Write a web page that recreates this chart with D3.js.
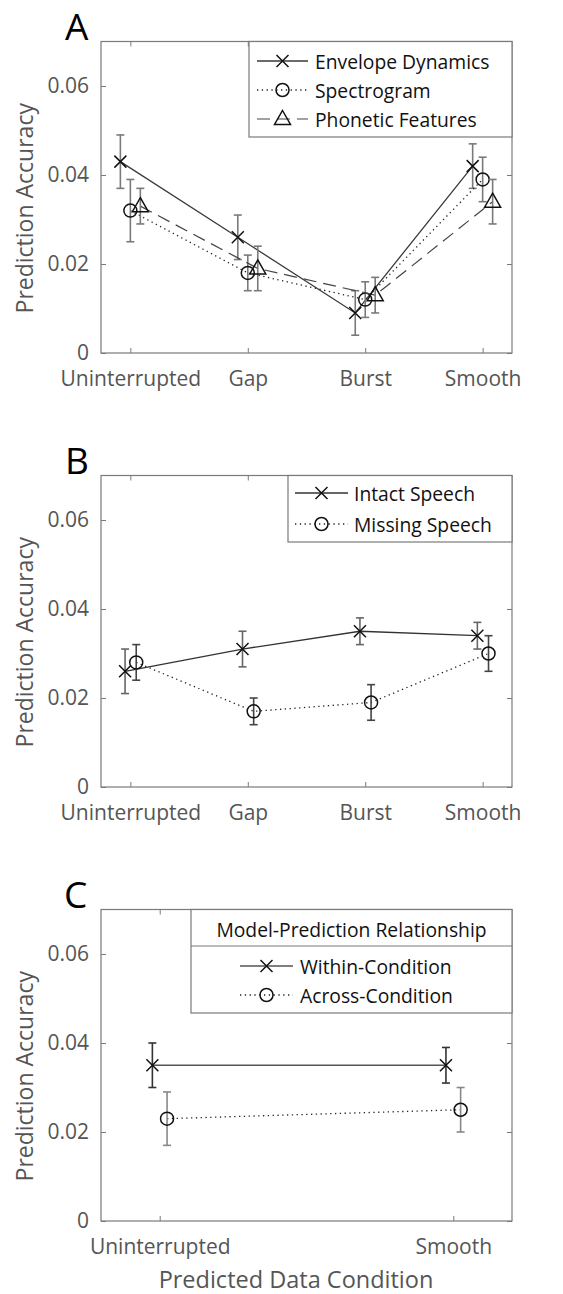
<!DOCTYPE html>
<html>
<head>
<meta charset="utf-8">
<script src="https://cdn.jsdelivr.net/npm/d3@7"></script>
<style>
  html, body { margin: 0; padding: 0; background: #fff; }
  svg { display: block; font-family: "Open Sans", sans-serif; }
</style>
</head>
<body>
<svg id="fig" width="563" height="1294"></svg>
<script>
// ---- data ----
const conditions = ["Uninterrupted", "Gap", "Burst", "Smooth"];
const predictedConditions = ["Uninterrupted", "Smooth"];
const yTicks = [0, 0.02, 0.04, 0.06];
const yTickLabels = ["0", "0.02", "0.04", "0.06"];

// Panel A: model feature sets
const envelopeMean = [0.043, 0.026, 0.009, 0.042];
const envelopeErr  = [0.006, 0.005, 0.005, 0.005];
const spectroMean  = [0.032, 0.018, 0.012, 0.039];
const spectroErr   = [0.007, 0.004, 0.004, 0.005];
const phoneticMean = [0.033, 0.019, 0.013, 0.034];
const phoneticErr  = [0.004, 0.005, 0.004, 0.005];

// Panel B: intact vs missing speech
const intactMean  = [0.026, 0.031, 0.035, 0.034];
const intactErr   = [0.005, 0.004, 0.003, 0.003];
const missingMean = [0.028, 0.017, 0.019, 0.030];
const missingErr  = [0.004, 0.003, 0.004, 0.004];

// Panel C: within vs across condition
const withinMean = [0.035, 0.035];
const withinErr  = [0.005, 0.004];
const acrossMean = [0.023, 0.025];
const acrossErr  = [0.006, 0.005];

const svg = d3.select("#fig");

const markerPaths = {
  x: "M-6,-6L6,6M-6,6L6,-6",
  circle: d3.symbol().type(d3.symbolCircle).size(Math.PI * 6.5 * 6.5)(),
  triangle: "M0,-8.5L8,5.5L-8,5.5Z"
};

function drawMarker(g, type, x, y) {
  g.append("path")
    .attr("d", markerPaths[type])
    .attr("transform", `translate(${x},${y})`)
    .attr("fill", "none")
    .attr("stroke", "#111")
    .attr("stroke-width", 1.5);
}

function drawPanel(p) {
  const g = svg.append("g");
  const x = d3.scaleLinear().domain(p.xDomain).range([101, 512]);
  const y = d3.scaleLinear().domain([0, 0.07]).range([p.bottom, p.bottom - 89 * 3.5]);
  const top = y(0.07), bottom = y(0);

  // panel letter
  g.append("text").attr("x", p.letterX).attr("y", top - 2)
    .attr("font-size", 37).attr("fill", "#000").text(p.letter);

  // axes box with inward ticks on all sides
  const axColor = "#7a7a7a";
  g.append("rect").attr("x", 101).attr("y", top).attr("width", 411).attr("height", bottom - top)
    .attr("fill", "none").attr("stroke", axColor).attr("stroke-width", 1.2);

  const xAxisB = d3.axisBottom(x).tickValues(p.categories.map((c, i) => i + 1))
    .tickFormat((d) => p.categories[d - 1]).tickSizeInner(-5).tickSizeOuter(0).tickPadding(18);
  const gx = g.append("g").attr("transform", `translate(0,${bottom})`).call(xAxisB);
  gx.select(".domain").remove();
  gx.selectAll("line").attr("stroke", axColor);
  gx.selectAll("text").attr("font-size", 21).attr("fill", "#555").attr("font-family", "Open Sans, sans-serif");

  const xAxisT = d3.axisTop(x).tickValues(p.categories.map((c, i) => i + 1))
    .tickFormat("").tickSizeInner(-5).tickSizeOuter(0);
  const gxt = g.append("g").attr("transform", `translate(0,${top})`).call(xAxisT);
  gxt.select(".domain").remove();
  gxt.selectAll("line").attr("stroke", axColor);

  const yAxisL = d3.axisLeft(y).tickValues(yTicks)
    .tickFormat((d, i) => yTickLabels[i]).tickSizeInner(-5).tickSizeOuter(0).tickPadding(12);
  const gy = g.append("g").attr("transform", `translate(101,0)`).call(yAxisL);
  gy.select(".domain").remove();
  gy.selectAll("line").attr("stroke", axColor);
  gy.selectAll("text").attr("font-size", 21).attr("fill", "#555").attr("font-family", "Open Sans, sans-serif");

  const yAxisR = d3.axisRight(y).tickValues(yTicks).tickFormat("").tickSizeInner(-5).tickSizeOuter(0);
  const gyr = g.append("g").attr("transform", `translate(512,0)`).call(yAxisR);
  gyr.select(".domain").remove();
  gyr.selectAll("line").attr("stroke", axColor);

  // y label
  const cy = (top + bottom) / 2 + 11;
  g.append("text").attr("transform", `translate(33,${cy}) rotate(-90)`)
    .attr("text-anchor", "middle").attr("font-size", 23).attr("fill", "#555")
    .text("Prediction Accuracy");

  if (p.xLabel) {
    g.append("text").attr("x", 296).attr("y", bottom + 67).attr("text-anchor", "middle")
      .attr("font-size", 23.5).attr("fill", "#555").text(p.xLabel);
  }

  // series
  p.series.forEach((s) => {
    const pts = s.mean.map((m, i) => ({ x: x(i + 1 + s.offset), y: y(m), lo: y(m - s.err[i]), hi: y(m + s.err[i]) }));
    g.append("path")
      .attr("d", d3.line().x((d) => d.x).y((d) => d.y)(pts))
      .attr("fill", "none").attr("stroke", s.lineColor).attr("stroke-width", s.lineWidth)
      .attr("stroke-dasharray", s.dash);
    pts.forEach((d) => {
      g.append("line").attr("x1", d.x).attr("x2", d.x).attr("y1", d.lo).attr("y2", d.hi)
        .attr("stroke", s.errColor).attr("stroke-width", 1.6);
      [d.lo, d.hi].forEach((yy) => {
        g.append("line").attr("x1", d.x - 4).attr("x2", d.x + 4).attr("y1", yy).attr("y2", yy)
          .attr("stroke", s.errColor).attr("stroke-width", 1.6);
      });
      drawMarker(g, s.marker, d.x, d.y);
    });
  });

  // legend
  const L = p.legend;
  g.append("rect").attr("x", L.x).attr("y", top).attr("width", 512 - L.x).attr("height", L.bottom - top)
    .attr("fill", "#fff").attr("stroke", axColor).attr("stroke-width", 1.2);
  if (L.title) {
    g.append("line").attr("x1", L.x).attr("x2", 512).attr("y1", L.divider).attr("y2", L.divider)
      .attr("stroke", axColor).attr("stroke-width", 1.2);
    g.append("text").attr("x", (L.x + 512) / 2).attr("y", L.titleY).attr("text-anchor", "middle")
      .attr("dominant-baseline", "central").attr("font-size", 19.3).attr("fill", "#111").text(L.title);
  }
  p.series.forEach((s, i) => {
    const ly = L.rows[i];
    g.append("line").attr("x1", L.lineX0).attr("x2", L.lineX1).attr("y1", ly).attr("y2", ly)
      .attr("stroke", s.lineColor).attr("stroke-width", s.lineWidth).attr("stroke-dasharray", s.dash);
    drawMarker(g, s.marker, (L.lineX0 + L.lineX1) / 2, ly);
    g.append("text").attr("x", L.textX).attr("y", ly).attr("dominant-baseline", "central")
      .attr("font-size", 19.3).attr("fill", "#111").text(s.name);
  });
}

drawPanel({
  letter: "A", letterX: 65, bottom: 353, xDomain: [0.75, 4.25], categories: conditions,
  series: [
    { name: "Envelope Dynamics", mean: envelopeMean, err: envelopeErr, offset: -0.085, marker: "x",
      lineColor: "#3a3a3a", lineWidth: 1.3, dash: null, errColor: "#7a7a7a" },
    { name: "Spectrogram", mean: spectroMean, err: spectroErr, offset: 0, marker: "circle",
      lineColor: "#222", lineWidth: 1.3, dash: "1.3,3.5", errColor: "#7a7a7a" },
    { name: "Phonetic Features", mean: phoneticMean, err: phoneticErr, offset: 0.085, marker: "triangle",
      lineColor: "#444", lineWidth: 1.2, dash: "13,7", errColor: "#7a7a7a" }
  ],
  legend: { x: 249, bottom: 137, rows: [61, 90, 119], lineX0: 257, lineX1: 308, textX: 315 }
});

drawPanel({
  letter: "B", letterX: 65, bottom: 787, xDomain: [0.75, 4.25], categories: conditions,
  series: [
    { name: "Intact Speech", mean: intactMean, err: intactErr, offset: -0.045, marker: "x",
      lineColor: "#333", lineWidth: 1.3, dash: null, errColor: "#666" },
    { name: "Missing Speech", mean: missingMean, err: missingErr, offset: 0.05, marker: "circle",
      lineColor: "#222", lineWidth: 1.3, dash: "1.3,3.5", errColor: "#444" }
  ],
  legend: { x: 288, bottom: 542, rows: [493, 524], lineX0: 295, lineX1: 348, textX: 354 }
});

drawPanel({
  letter: "C", letterX: 64, bottom: 1221, xDomain: [0.8, 2.2], categories: predictedConditions,
  xLabel: "Predicted Data Condition",
  series: [
    { name: "Within-Condition", mean: withinMean, err: withinErr, offset: -0.025, marker: "x",
      lineColor: "#555", lineWidth: 1.3, dash: null, errColor: "#333" },
    { name: "Across-Condition", mean: acrossMean, err: acrossErr, offset: 0.025, marker: "circle",
      lineColor: "#222", lineWidth: 1.3, dash: "1.3,3.5", errColor: "#888" }
  ],
  legend: { x: 191, bottom: 1013, title: "Model-Prediction Relationship", divider: 946, titleY: 929,
    rows: [966, 995], lineX0: 240, lineX1: 293, textX: 300 }
});
</script>
</body>
</html>
